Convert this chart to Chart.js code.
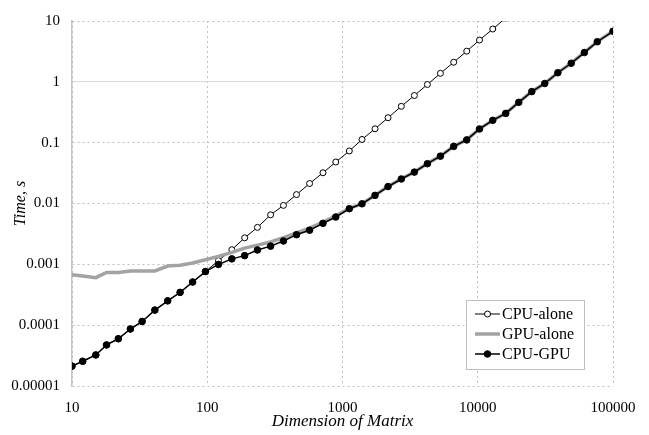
<!DOCTYPE html>
<html>
<head>
<meta charset="utf-8">
<script src="https://cdn.jsdelivr.net/npm/chart.js@4.4.1/dist/chart.umd.min.js"></script>
<style>
    html, body { margin: 0; padding: 0; background: #fff; }
    #wrap { width: 649px; height: 435px; }
</style>
</head>
<body>
<div id="wrap"><canvas id="chart" width="649" height="435"></canvas></div>
<script>
// Matrix dimensions (x values)
const dims = [10, 12, 15, 18, 22, 27, 33, 41, 51, 63, 78, 97, 121, 152, 189, 235, 294, 366, 457, 571,
    717, 892, 1123, 1394, 1740, 2171, 2723, 3400, 4244, 5297, 6641, 8290, 10300, 12910, 16110,
    20100, 25100, 31300, 39100, 49100, 61400, 76500, 100000];

// Time, s
const cpuAlone = [2.12e-5, 2.55e-5, 3.24e-5, 4.73e-5, 5.98e-5, 8.65e-5, 1.15e-4, 1.77e-4, 2.51e-4, 3.46e-4,
    5.12e-4, 7.6e-4, 1.15e-3, 1.74e-3, 2.73e-3, 4.05e-3, 6.51e-3, 9.31e-3, 0.014, 0.0213, 0.032, 0.0481,
    0.073, 0.113, 0.169, 0.257, 0.396, 0.596, 0.905, 1.38, 2.1, 3.19, 4.86, 7.38, 11.2];
const gpuAlone = [6.73e-4, 6.44e-4, 6.03e-4, 7.33e-4, 7.33e-4, 7.8e-4, 7.8e-4, 7.8e-4, 9.39e-4, 9.68e-4,
    1.05e-3, 1.19e-3, 1.35e-3, 1.57e-3, 1.85e-3, 2.07e-3, 2.33e-3, 2.75e-3, 3.28e-3, 3.95e-3, 4.93e-3, 6.27e-3,
    8.3e-3, 0.0099, 0.0137, 0.0191, 0.0255, 0.033, 0.0455, 0.0605, 0.087, 0.112, 0.169, 0.234, 0.305,
    0.462, 0.695, 0.94, 1.42, 2.03, 3.05, 4.58, 6.8];
const cpuGpu = [2.12e-5, 2.55e-5, 3.24e-5, 4.73e-5, 5.98e-5, 8.65e-5, 1.15e-4, 1.77e-4, 2.51e-4, 3.46e-4,
    5.12e-4, 7.6e-4, 9.96e-4, 1.23e-3, 1.39e-3, 1.72e-3, 1.99e-3, 2.42e-3, 3.07e-3, 3.64e-3, 4.72e-3, 6.0e-3,
    8.22e-3, 9.89e-3, 0.0136, 0.019, 0.0253, 0.0328, 0.0451, 0.06, 0.0869, 0.111, 0.168, 0.233, 0.303,
    0.46, 0.691, 0.939, 1.41, 2.02, 3.03, 4.56, 6.78];

const xTickValues = [10, 100, 1000, 10000, 100000];
const xTickLabels = ['10', '100', '1000', '10000', '100000'];
const yTickValues = [1e-5, 1e-4, 1e-3, 1e-2, 1e-1, 1, 10];
const yTickLabels = ['0.00001', '0.0001', '0.001', '0.01', '0.1', '1', '10'];

const SERIF = "'Liberation Serif', 'Times New Roman', serif";

// pasangkan x dan y
function toPoints(values) {
    return values.map((v, i) => ({ x: dims[i], y: v }));
}

// Legend kotak di dalam area grafik
const boxLegend = {
    id: 'boxLegend',
    afterDraw(chart) {
        const ctx = chart.ctx;
        const left = 466, top = 300, w = 118, h = 69;
        ctx.save();
        ctx.fillStyle = '#fff';
        ctx.fillRect(left, top, w, h);
        ctx.strokeStyle = '#bfbfbf';
        ctx.lineWidth = 1;
        ctx.strokeRect(left + 0.5, top + 0.5, w, h);

        const order = [0, 1, 2];
        order.forEach((di, row) => {
            const ds = chart.data.datasets[di];
            const y = top + 14 + row * 20;
            ctx.strokeStyle = ds.borderColor;
            ctx.lineWidth = ds.borderWidth;
            ctx.beginPath();
            ctx.moveTo(475, y);
            ctx.lineTo(500, y);
            ctx.stroke();
            if (ds.pointRadius > 0) {
                ctx.beginPath();
                ctx.arc(487.5, y, ds.pointRadius, 0, Math.PI * 2);
                ctx.fillStyle = ds.pointBackgroundColor;
                ctx.fill();
                ctx.lineWidth = ds.pointBorderWidth;
                ctx.strokeStyle = ds.pointBorderColor;
                ctx.stroke();
            }
            ctx.fillStyle = '#000';
            ctx.font = '16px ' + SERIF;
            ctx.textBaseline = 'middle';
            ctx.textAlign = 'left';
            ctx.fillText(ds.label, 502, y + 1);
        });
        ctx.restore();
    }
};

new Chart(document.getElementById('chart'), {
    type: 'line',
    data: {
        datasets: [
            {
                label: 'CPU-alone',
                data: toPoints(cpuAlone),
                borderColor: '#000',
                borderWidth: 1,
                pointRadius: 3,
                pointBackgroundColor: '#fff',
                pointBorderColor: '#000',
                pointBorderWidth: 1,
                order: 2
            },
            {
                label: 'GPU-alone',
                data: toPoints(gpuAlone),
                borderColor: '#a3a3a3',
                borderWidth: 3.5,
                pointRadius: 0,
                order: 1
            },
            {
                label: 'CPU-GPU',
                data: toPoints(cpuGpu),
                borderColor: '#000',
                borderWidth: 1.5,
                pointRadius: 3.3,
                pointBackgroundColor: '#000',
                pointBorderColor: '#000',
                pointBorderWidth: 1,
                order: 0
            }
        ]
    },
    options: {
        responsive: false,
        animation: false,
        events: [],
        layout: { padding: { left: 0, right: 36, top: 13, bottom: 0 } },
        plugins: {
            legend: { display: false },
            tooltip: { enabled: false }
        },
        scales: {
            x: {
                type: 'logarithmic',
                min: 10,
                max: 100000,
                afterBuildTicks: (scale) => { scale.ticks = xTickValues.map(v => ({ value: v })); },
                afterFit: (scale) => { scale.height = 49; },
                ticks: {
                    autoSkip: false,
                    maxRotation: 0,
                    padding: 13,
                    color: '#000',
                    font: { family: SERIF, size: 15 },
                    callback: (value, index) => xTickLabels[index]
                },
                grid: { color: '#bfbfbf', lineWidth: 1, drawTicks: false },
                border: { display: false, dash: [2, 3] },
                title: {
                    display: true,
                    text: 'Dimension of Matrix',
                    color: '#000',
                    font: { family: SERIF, size: 17, style: 'italic' },
                    padding: { top: 0, bottom: 3 }
                }
            },
            y: {
                type: 'logarithmic',
                min: 1e-5,
                max: 10,
                afterBuildTicks: (scale) => { scale.ticks = yTickValues.map(v => ({ value: v })); },
                afterFit: (scale) => { scale.width = 72; },
                ticks: {
                    autoSkip: false,
                    padding: 12,
                    color: '#000',
                    font: { family: SERIF, size: 15 },
                    callback: (value, index) => yTickLabels[index]
                },
                grid: {
                    color: (ctx) => (ctx.tick && ctx.tick.value === 1 ? '#d9d9d9' : '#bfbfbf'),
                    lineWidth: 1,
                    drawTicks: false
                },
                border: {
                    display: true,
                    color: '#c4c4c4',
                    width: 1.5,
                    dash: (ctx) => (ctx.tick && ctx.tick.value === 1 ? [] : [2, 3])
                },
                title: {
                    display: true,
                    text: 'Time, s',
                    color: '#000',
                    font: { family: SERIF, size: 16, style: 'italic' },
                    padding: { top: 11, bottom: 0 }
                }
            }
        }
    },
    plugins: [boxLegend]
});
</script>
</body>
</html>
